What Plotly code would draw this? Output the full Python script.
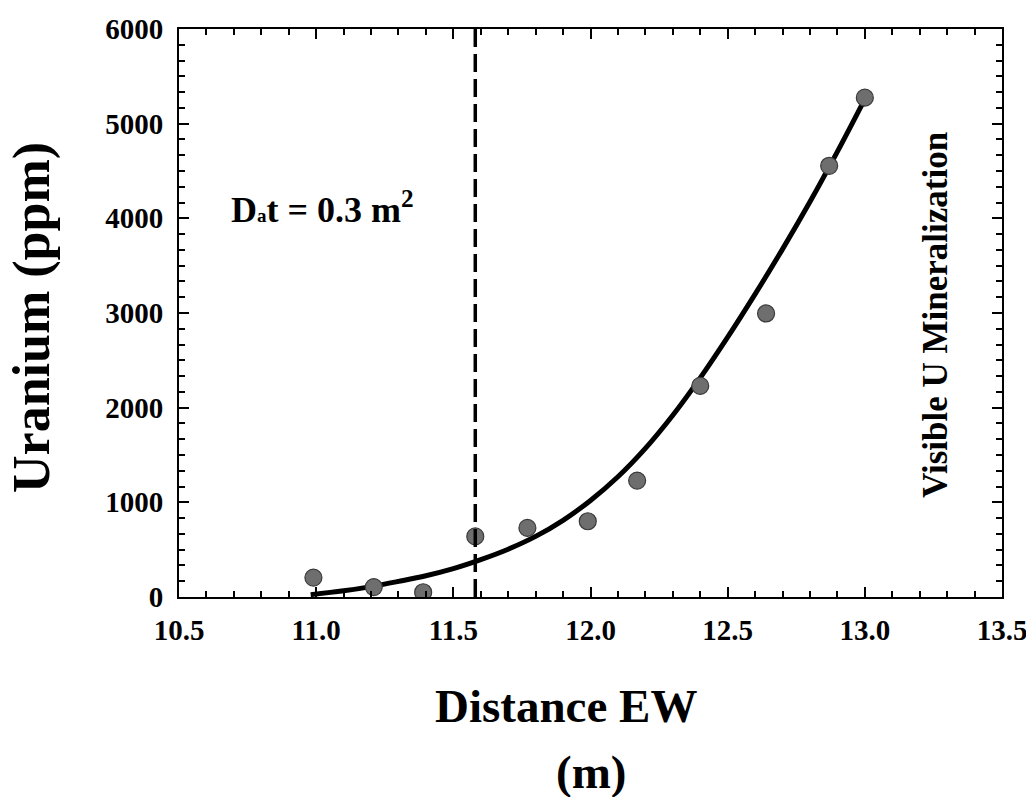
import plotly.graph_objects as go

# ---- data ----
distance_pts = [10.99, 11.21, 11.39, 11.58, 11.77, 11.99, 12.17, 12.40, 12.64, 12.87, 13.00]
uranium_pts = [205, 105, 50, 640, 730, 800, 1230, 2230, 2995, 4555, 5275]

fit_distance = [10.98, 11.1, 11.2, 11.3, 11.4, 11.5, 11.6, 11.7, 11.8, 11.9, 12.0,
                12.1, 12.2, 12.3, 12.4, 12.5, 12.6, 12.7, 12.8, 12.9, 13.0]
fit_uranium = [25, 65, 110, 165, 225, 300, 395, 505, 640, 810, 1020,
               1270, 1570, 1920, 2315, 2745, 3200, 3675, 4175, 4705, 5260]

threshold_x = 11.58

x_ticks = [10.5, 11.0, 11.5, 12.0, 12.5, 13.0, 13.5]
y_ticks = [0, 1000, 2000, 3000, 4000, 5000, 6000]

FONT = "Liberation Serif"

fig = go.Figure()
fig.add_trace(go.Scatter(
    x=fit_distance, y=fit_uranium, mode="lines",
    line=dict(color="black", width=5, shape="spline", smoothing=1.0),
    hoverinfo="skip", showlegend=False))
fig.add_trace(go.Scatter(
    x=distance_pts, y=uranium_pts, mode="markers",
    marker=dict(size=17, color="#6e6e6e", line=dict(color="#3a3a3a", width=1.2)),
    showlegend=False))

fig.add_shape(type="line", xref="x", yref="paper", x0=threshold_x, x1=threshold_x,
              y0=0, y1=1, line=dict(color="black", width=3.5, dash="18px,7px"))

axis_common = dict(
    showline=True, linewidth=2, linecolor="black", mirror="allticks",
    ticks="inside", ticklen=10, tickwidth=2, tickcolor="black",
    showgrid=False, zeroline=False, automargin=False,
    tickfont=dict(family=FONT, size=29, color="black", weight="bold"),
)

fig.update_xaxes(range=[10.5, 13.5], tickvals=x_ticks, tickformat=".1f",
                 minor=dict(dtick=0.1, tick0=10.5, ticks="inside", ticklen=6, tickwidth=1.5,
                            tickcolor="black", showgrid=False),
                 ticklabelstandoff=6, **axis_common)
fig.update_yaxes(range=[0, 6000], tickvals=y_ticks,
                 minor=dict(dtick=1000 / 6, tick0=0, ticks="inside", ticklen=6, tickwidth=1.5,
                            tickcolor="black", showgrid=False),
                 ticklabelstandoff=8, **axis_common)

# page has an 8px body margin: work in page pixels, convert to figure pixels
OFF = 8
W, H = 1034 - OFF, 797 - OFF
L, T = 179 - OFF, 29 - OFF
R = W - (1002 - OFF)
B = H - (597 - OFF)
pw, ph = W - L - R, H - T - B


def px(xp):
    return (xp - OFF - L) / pw


def py(yp):
    return (H - B - (yp - OFF)) / ph


ann = []
ann.append(dict(text="Uranium (ppm)", x=px(32), y=py(318), xref="paper", yref="paper",
                showarrow=False, textangle=-90, xanchor="center", yanchor="middle",
                borderpad=0,
                font=dict(family=FONT, size=52, color="black", weight="bold")))
ann.append(dict(text="Distance EW", x=px(566), y=py(706), xref="paper", yref="paper",
                showarrow=False, xanchor="center", yanchor="middle",
                font=dict(family=FONT, size=47, color="black", weight="bold")))
ann.append(dict(text="(m)", x=px(591), y=py(772), xref="paper", yref="paper",
                showarrow=False, xanchor="center", yanchor="middle",
                font=dict(family=FONT, size=47, color="black", weight="bold")))
ann.append(dict(text="D<span style='font-size:19px'>a</span>t = 0.3 m<sup>2</sup>",
                x=px(229), y=py(208), xref="paper", yref="paper",
                showarrow=False, xanchor="left", yanchor="middle",
                font=dict(family=FONT, size=36, color="black", weight="bold")))
ann.append(dict(text="Visible U Mineralization", x=px(935), y=py(315), xref="paper", yref="paper",
                showarrow=False, textangle=-90, xanchor="center", yanchor="middle",
                font=dict(family=FONT, size=35, color="black", weight="bold")))

fig.update_layout(
    width=W, height=H, margin=dict(l=L, r=R, t=T, b=B, autoexpand=False),
    paper_bgcolor="white", plot_bgcolor="white",
    annotations=ann, showlegend=False,
)

fig.write_html("out.html")
